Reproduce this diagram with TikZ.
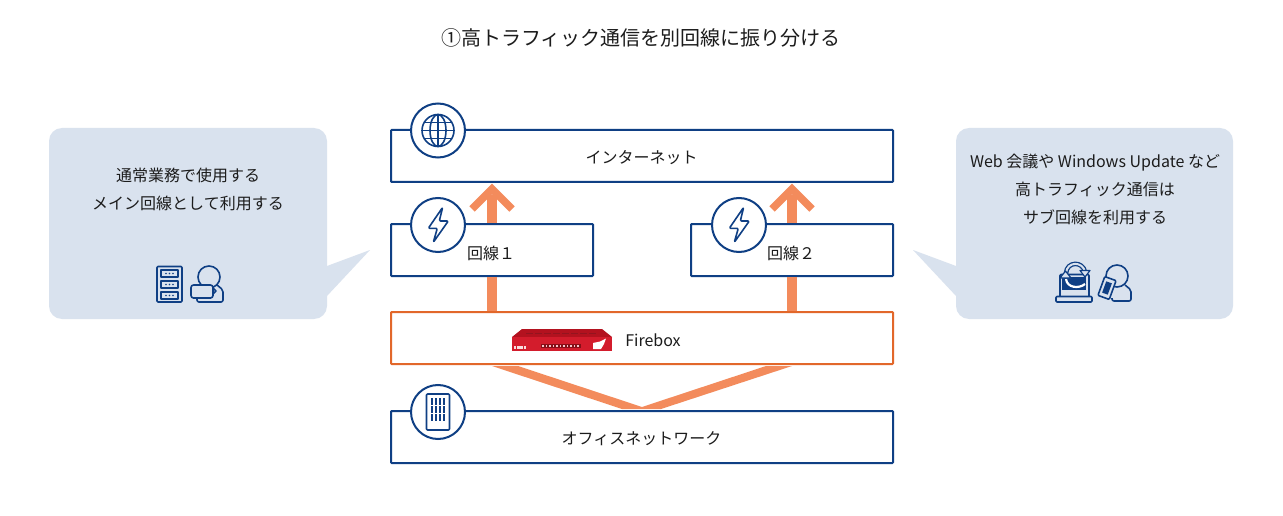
\documentclass[tikz,border=0pt]{standalone}
\usepackage{fontspec}
\setmainfont{Noto Sans CJK JP}
\usetikzlibrary{calc}
\definecolor{navy}{HTML}{0F3F84}
\definecolor{flowc}{HTML}{F38B5C}
\definecolor{fwline}{HTML}{E2672A}
\definecolor{bub}{HTML}{D9E2EE}
\definecolor{fbred}{HTML}{D31C2C}
\definecolor{fbdark}{HTML}{B3121F}
\definecolor{ink}{HTML}{1C1C1C}
\tikzset{
  x=1pt,y=-1pt,
  netbox/.style={draw=navy,line width=2pt,fill=white,rounded corners=0.8pt,inner sep=0pt,minimum height=52pt},
  boxtext/.style={inner sep=0pt,text=ink,font=\fontsize{16}{18}\selectfont},
  badge/.style={circle,draw=navy,line width=2pt,fill=white,minimum size=54pt,inner sep=0pt},
  shaft/.style={draw=flowc,line width=10.8pt},
  barb/.style={draw=flowc,line width=7.5pt,miter limit=10},
  bubble/.style={fill=bub,rounded corners=13pt},
  tip/.style={fill=bub},
  bubtext/.style={align=center,text=ink,font=\fontsize{16}{28}\selectfont},
  ico/.style={draw=navy,line width=1.6pt,line join=round},
}
\begin{document}
\begin{tikzpicture}
\useasboundingbox (0,0) rectangle (1283,516);
\fill[white] (0,0) rectangle (1283,516);
% title
\node[text=ink,font=\fontsize{20}{24}\selectfont,inner sep=0pt] (title) at (641,38) {①高トラフィック通信を別回線に振り分ける};
% bubbles
\fill[tip] (320,266) -- (327,266) -- (370,250) -- (327,296) -- (320,296) -- cycle;
\fill[bubble] (49,128) rectangle (327,319);
\fill[tip] (963,266) -- (956,266) -- (913,250) -- (956,296) -- (963,296) -- cycle;
\fill[bubble] (956,128) rectangle (1233,319);
\node[bubtext] (ltxt) at (188,189.5) {通常業務で使用する\\メイン回線として利用する};
\node[bubtext] (rtxt) at (1095,189.5) {Web 会議や Windows Update など\\高トラフィック通信は\\サブ回線を利用する};
% boxes
\node[netbox,minimum width=502pt] (inet) at (642,156) {};
\node[netbox,minimum width=202pt] (lineA) at (492,250) {};
\node[netbox,minimum width=202pt] (lineB) at (792,250) {};
\node[netbox,draw=fwline,minimum width=502pt] (fw) at (642,338) {};
\node[netbox,minimum width=502pt] (office) at (642,437) {};
\node[boxtext] (inettxt) at (641.5,158) {インターネット};
\node[boxtext] (atxt) at (491,253) {回線１};
\node[boxtext] (btxt) at (791,253) {回線２};
\node[boxtext] (fwtxt) at (653,340) {Firebox};
\node[boxtext] (offtxt) at (641.5,439) {オフィスネットワーク};
% connectors
\draw[shaft] (fw.north -| lineA.south) -- (lineA.south);
\draw[shaft] (fw.north -| lineB.south) -- (lineB.south);
\draw[shaft] (lineA.north) -- ($(lineA.north |- inet.south)+(0,12)$);
\draw[shaft] (lineB.north) -- ($(lineB.north |- inet.south)+(0,12)$);
\draw[barb] ($(lineA.north |- inet.south)+(-20,26)$) -- ($(lineA.north |- inet.south)+(0,6)$) -- ($(lineA.north |- inet.south)+(20,26)$);
\draw[barb] ($(lineB.north |- inet.south)+(-20,26)$) -- ($(lineB.north |- inet.south)+(0,6)$) -- ($(lineB.north |- inet.south)+(20,26)$);
\coordinate (vtop) at (642,407);
\fill[flowc] ($(fw.south -| lineA.south)+(0,1)$) -- ++(26,0) -- (vtop) -- ($(fw.south -| lineB.south)+(-26,1)$) -- ++(26,0) -- ($(office.north)+(19,-1)$) -- ($(office.north)+(-20,-1)$) -- cycle;
% badges
\node[badge] (b1) at (438,130.5) {};
\node[badge] (b2) at (438,225) {};
\node[badge] (b3) at (739,225) {};
\node[badge] (b4) at (438,412) {};
% globe
\begin{scope}[shift={(b1.center)},ico]
\draw (0,0) circle (16);
\draw (0,-16) -- (0,16) (-16,0) -- (16,0);
\draw (0,0) ellipse (8 and 16);
\draw (-13.5,-8) -- (13.5,-8) (-13.5,8) -- (13.5,8);
\end{scope}
% bolts
\foreach \b in {b2,b3}{
\begin{scope}[shift={(\b.center)},ico]
\draw[rounded corners=1.2pt] (4.7,-17.7) -- (-9.7,3.3) -- (-0.7,3.3) -- (-4.7,17.3) -- (10.3,-4) -- (1.3,-4) -- cycle;
\end{scope}}
% building
\begin{scope}[shift={(b4.center)},ico]
\draw[rounded corners=1pt] (-11.5,-18) rectangle (11.5,18);
\foreach \px in {-6,-2,2,6}{\foreach \py in {-11,-3,5}{
\fill[navy] (\px-1.2,\py-2.8) rectangle (\px+1.2,\py+3.6);}}
\end{scope}
% server + person
\begin{scope}[ico]
\draw[rounded corners=1pt] (157,266.5) rectangle (182,302);
\foreach \y in {270,281,292}{
\draw[line width=1.2pt] (161,\y) rectangle (178,\y+7);
\foreach \d in {166,169.5,173}{\fill[navy] (\d,\y+3.5) circle (0.9);}}
\draw[rounded corners=2pt] (197,298) -- (197,302) -- (223,302) -- (223,290) -- (217,285);
\draw (209,277) circle (11);
\fill[bub] (191,285) rectangle (213,298);
\draw[rounded corners=2.5pt] (191,285) rectangle (213,298);
\draw (213,288) -- (216,291) -- (213,294);
\end{scope}
% laptop + person + phone
\begin{scope}[ico]
\draw[rounded corners=1pt] (1060,297) -- (1060,274.5) -- (1089,274.5) -- (1089,297);
\fill[navy] (1062,277) rectangle (1086,290);
\draw[rounded corners=1pt,fill=bub] (1056,296.5) rectangle (1092,302);
% refresh arrows
\draw[navy,line width=4.6pt] (1066,273) .. controls (1067,261) and (1083,261) .. (1085,272);
\draw[bub,line width=2pt] (1066,273) .. controls (1067,261) and (1083,261) .. (1085,272);
\fill[bub,draw=navy,line width=1.2pt] (1080,270.5) -- (1090,270.5) -- (1085,277) -- cycle;
\draw[white,line width=2.2pt] (1066,279) .. controls (1067,288) and (1079,289) .. (1085,284);
\fill[bub,draw=navy,line width=1.2pt] (1060,278) -- (1071,278) -- (1065.5,271) -- cycle;
\draw[rounded corners=2pt] (1112,298) -- (1112,301) -- (1131,301) -- (1131,290) -- (1125,285);
\draw (1117,276) circle (11);
\begin{scope}[shift={(1107,288)},rotate=-20]
\draw[fill=bub,rounded corners=1pt] (-6,-10) rectangle (6,10);
\fill[navy] (-3,-6) rectangle (3,6);
\end{scope}
\end{scope}
% firebox
\fill[fbdark] (522,329) -- (602,329) -- (612,337) -- (512,337) -- cycle;
\fill[fbred] (512,337) rectangle (612,351);
\foreach \d in {0,...,7}{\fill[fbred!70!black] ($(526,332.5)+(\d*9,0)$) rectangle ++(7,1.2);}
\fill[fbdark!75!black] (541,344) rectangle (581,347.5);
\foreach \d in {0,1,...,10}{\fill[white!75!fbred] ($(542,345)+(\d*3.5,0)$) rectangle ++(1.6,1.6);}
\foreach \d in {0,...,3}{\fill[white!85!fbred] ($(514,346)+(\d*3.2,0)$) rectangle ++(2.3,2.6);}
\fill[white] (593,349) -- (593,343) -- (600,341.5) -- (606,338.5) -- (604,344) -- (601,349) -- cycle;
\end{tikzpicture}
\end{document}
